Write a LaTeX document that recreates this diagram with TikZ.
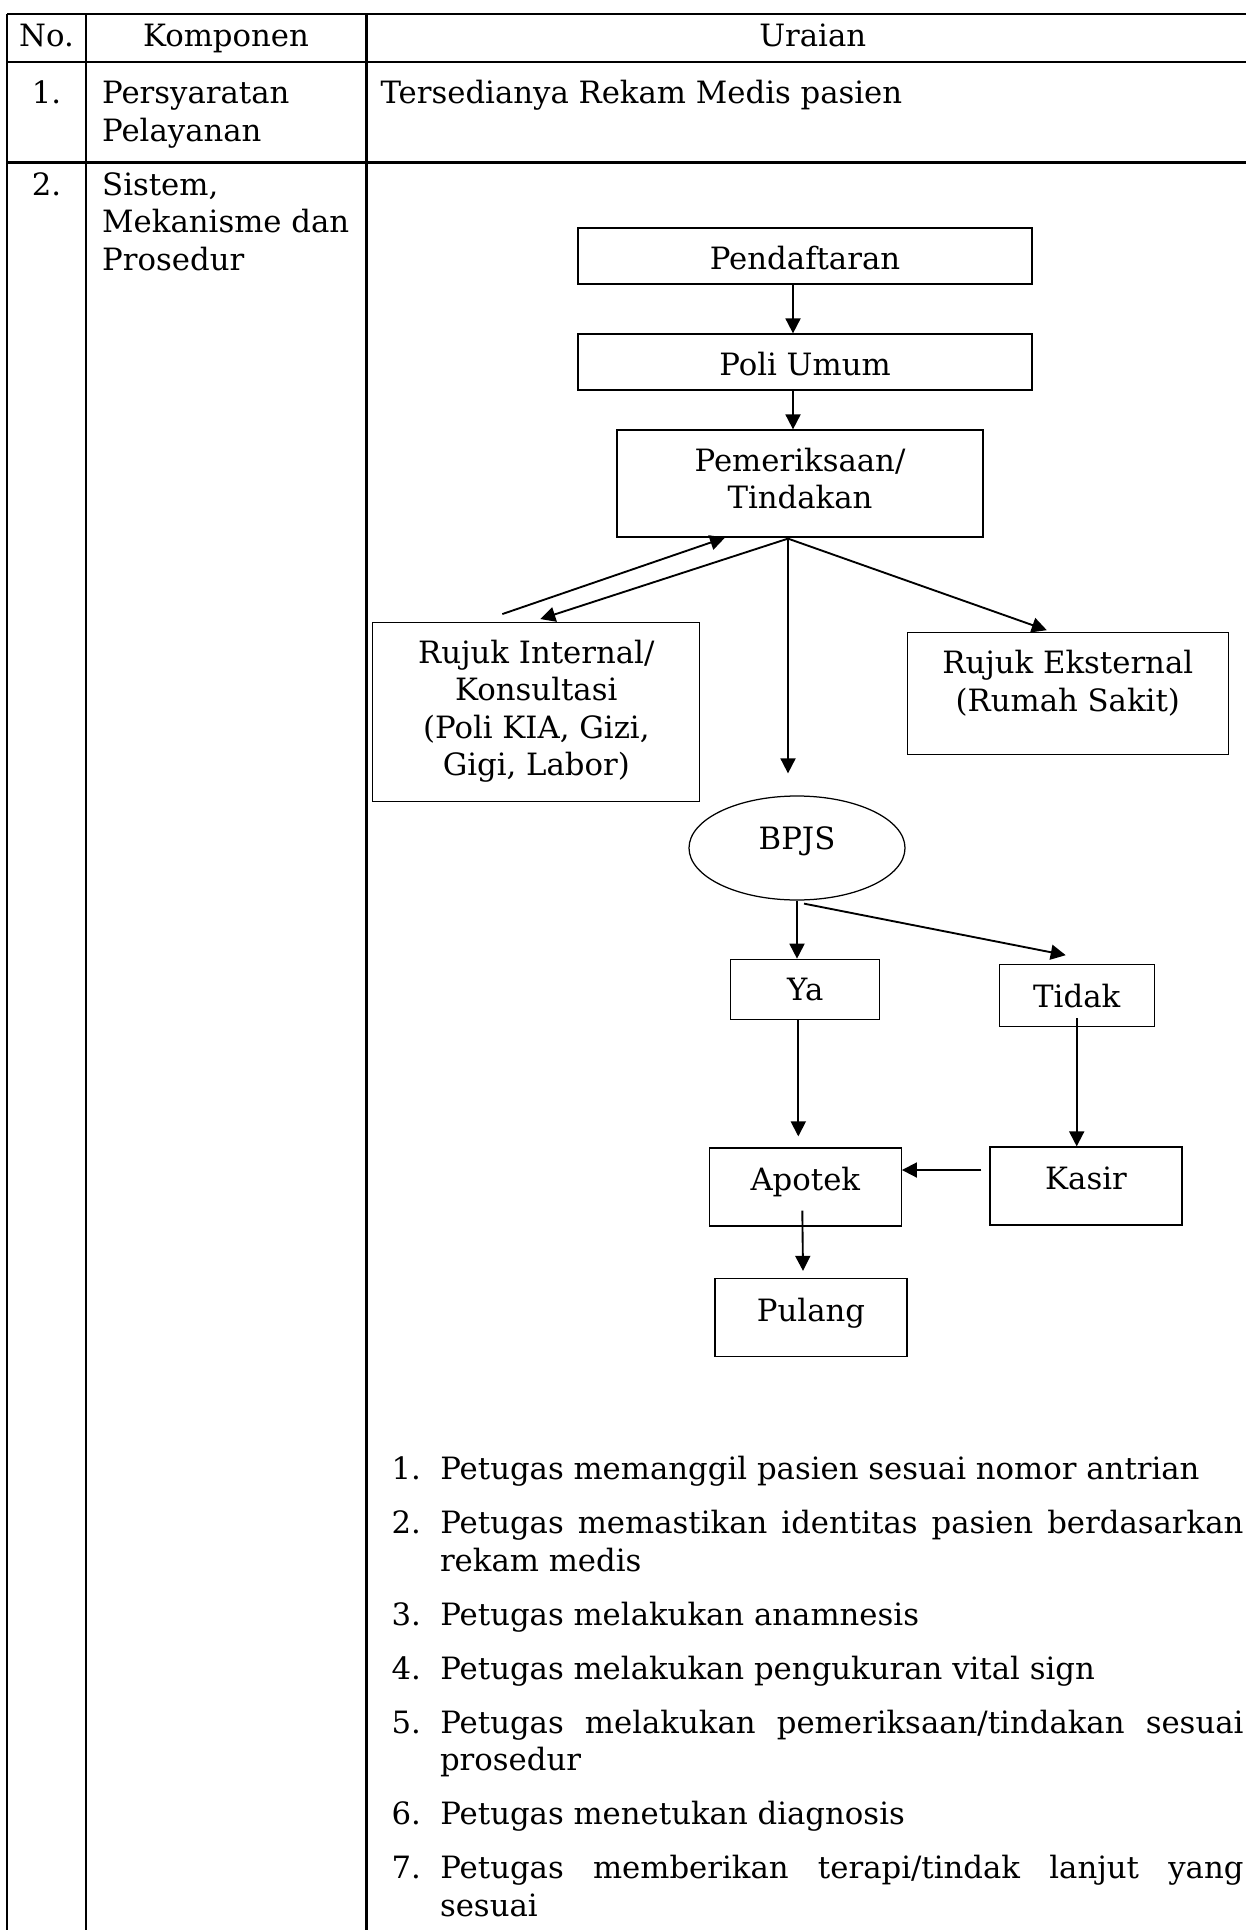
\documentclass[tikz,border=0pt]{standalone}
\usepackage{fontspec}
\setmainfont{DejaVu Serif}
\usepackage{enumitem}
\usetikzlibrary{arrows.meta,calc,shapes.geometric}

\hyphenpenalty=10000
\tolerance=9999

% cell text, first baseline on top
\newcommand{\cell}[1]{\begin{tabular}[t]{@{}l@{}}#1\end{tabular}}
% box text, first baseline put at #1 from the centre
\newcommand{\lift}[2]{\raisebox{#1}[0pt][0pt]{\begin{tabular}[t]{@{}c@{}}#2\end{tabular}}}

\tikzset{
  txt/.style={font=\fontsize{12.3pt}{15pt}\selectfont, inner sep=0pt},
  tabline/.style={line width=1.1pt},
  box/.style 2 args={txt, draw, line width=.5pt,
    minimum width=#1*0.4pt, minimum height=#2*0.4pt},
  oval/.style 2 args={box={#1}{#2}, ellipse},
  arr/.style={-{Triangle[length=6pt,width=6pt]}, line width=.75pt}
}

\begin{document}
\begin{tikzpicture}[x=0.4pt,y=-0.4pt]
        \useasboundingbox (0,0) rectangle (1246,1930);

        % table
        \draw[tabline] (7,14) -- (1246,14);
        \draw[tabline] (7,62) -- (1246,62);
        \draw[tabline] (7,162.7) -- (1246,162.7);
        \draw[tabline] (7,14) -- (7,1930);
        \draw[tabline] (86,14) -- (86,1930);
        \draw[tabline] (366.5,14) -- (366.5,1930);

        \node[txt, anchor=base] (hno) at (46.5,46.2) {No.};
        \node[txt, anchor=base] (hkomp) at (226,46.2) {Komponen};
        \node[txt, anchor=base] (hurai) at (812.7,46.2) {Uraian};
        \node[txt, anchor=base] (no1) at (46.5,103.6) {1.};
        \node[txt, anchor=base west] (komp1) at (101.7,103.6) {\cell{Persyaratan\\Pelayanan}};
        \node[txt, anchor=base west] (urai1) at (380,103.6) {Tersedianya Rekam Medis pasien};
        \node[txt, anchor=base] (no2) at (46.5,195.5) {2.};
        \node[txt, anchor=base west] (komp2) at (101.7,195.5) {\cell{Sistem,\\Mekanisme dan\\Prosedur}};

        % flowchart
        \node[box={454}{56}] (pend) at (805,256) {\lift{-5.5pt}{Pendaftaran}};
        \node[box={454}{56}] (poli) at (805,362) {\lift{-5.5pt}{Poli Umum}};
        \node[box={366}{107}] (pem) at (800,483.5) {\lift{4.8pt}{Pemeriksaan/\\Tindakan}};
        \node[box={327}{179}] (rujin) at (536.3,712.2) {\lift{19.6pt}{Rujuk Internal/\\Konsultasi\\(Poli KIA, Gizi,\\Gigi, Labor)}};
        \node[box={321}{122}] (ruje) at (1067.8,693.8) {\lift{8pt}{Rujuk Eksternal\\(Rumah Sakit)}};
        \node[oval={216}{104}] (bpjs) at (797,848) {\lift{-0.5pt}{BPJS}};
        \node[box={149}{60}] (ya) at (805.3,989.3) {\lift{-4.5pt}{Ya}};
        \node[box={155}{62}] (tidak) at (1076.7,995.8) {\lift{-4.5pt}{Tidak}};
        \node[box={192}{78}] (apotek) at (805.3,1187) {\lift{-1.5pt}{Apotek}};
        \node[box={192}{78}] (kasir) at (1086,1186) {\lift{-1.5pt}{Kasir}};
        \node[box={192}{78}] (pulang) at (811,1317.5) {\lift{-1.5pt}{Pulang}};

        \coordinate (axis) at (793,0);
        \coordinate (fork) at ($(pem.south)+(-12,1)$);
        \coordinate (stop) at ($(bpjs.north)+(-9,-22)$);

        \draw[arr] (pend.south -| axis) -- (poli.north -| axis);
        \draw[arr] (poli.south -| axis) -- (pem.north -| axis);
        \draw[arr] ($(rujin.north)+(-34,-8)$) -- ($(pem.south)+(-75,0)$);
        \draw[arr] (fork) -- ($(rujin.north)+(4,-3)$);
        \draw[arr] (fork) -- ($(ruje.north)+(-21,-2)$);
        \draw[arr] (fork) -- (stop);
        \draw[arr] (bpjs.south) -- (bpjs.south |- ya.north);
        \draw[arr] ($(bpjs.south)+(7,3)$) -- ($(tidak.north)+(-11,-9)$);
        \draw[arr] ($(ya.south)+(-7,0)$) -- ($(apotek.north)+(-7,-11)$);
        \draw[arr] ($(tidak.south)+(0,-9)$) -- (tidak.south |- kasir.north);
        \draw[arr] ($(kasir.west)+(-8,-16)$) -- ($(apotek.east)+(0,-17)$);
        \draw[arr] ($(apotek.south)+(-3,-16)$) -- ($(pulang.north)+(-8,-7)$);

        % steps
        \node[txt, anchor=base west, text width=340.8pt, align=justify] (steps) at (391,1442) {%
          \begin{enumerate}[label=\arabic*., leftmargin=19.4pt, labelwidth=11.6pt,
            labelsep=7.8pt, labelindent=0pt, align=left, itemsep=6.6pt,
            parsep=0pt, topsep=0pt, partopsep=0pt]
          \item Petugas memanggil pasien sesuai nomor antrian
          \item Petugas memastikan identitas pasien berdasarkan rekam medis
          \item Petugas melakukan anamnesis
          \item Petugas melakukan pengukuran vital sign
          \item Petugas melakukan pemeriksaan/tindakan sesuai prosedur
          \item Petugas menetukan diagnosis
          \item Petugas memberikan terapi/tindak lanjut yang sesuai
          \end{enumerate}};
    \end{tikzpicture}
\end{document}
